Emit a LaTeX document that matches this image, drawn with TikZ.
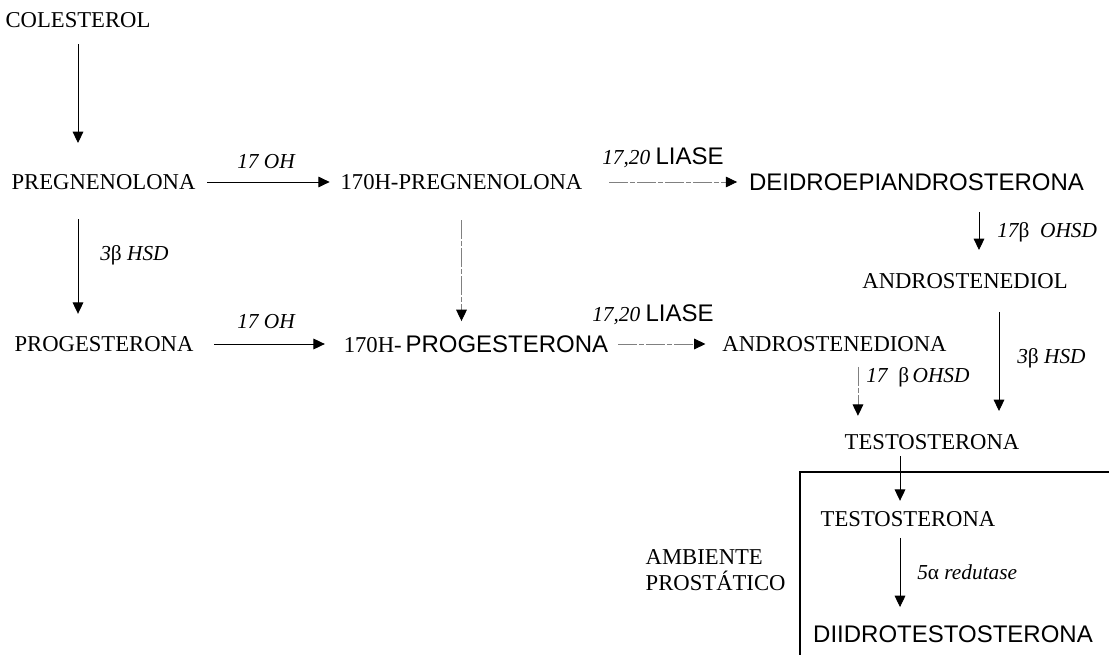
\documentclass[tikz,border=0pt]{standalone}
\usepackage{fontspec}
\setmainfont{Liberation Serif}
\newfontfamily\arialfont{Liberation Sans}
\usetikzlibrary{arrows.meta}
\newcommand{\sfword}[1]{{\upshape\fontsize{18}{21}\selectfont\arialfont #1}}

\begin{document}
\begin{tikzpicture}[x=0.75pt,y=-0.75pt,
		cmp/.style={font=\fontsize{17}{19}\selectfont},
		cmpsf/.style={font=\fontsize{18}{21}\selectfont\arialfont},
		enz/.style={font=\fontsize{16}{19}\selectfont\itshape,anchor=west,inner sep=0pt},
		arr/.style={-{Triangle[length=8.5pt,width=8pt]},line width=0.7pt},
		faint/.style={-{Triangle[length=8.5pt,width=8pt,color=black]},line width=0.7pt,gray,dash pattern=on 14pt off 1.5pt on 4pt off 1.5pt}]
		\useasboundingbox (0,0) rectangle (1109,655);
		% compounds
		\node[cmp] (colesterol) at (78,20) {COLESTEROL};
		\node[cmp] (pregnenolona) at (103.5,182) {PREGNENOLONA};
		\node[cmp] (ohpreg) at (461.5,182) {170H-PREGNENOLONA};
		\node[cmpsf] (dhea) at (916.5,182) {DEIDROEPIANDROSTERONA};
		\node[cmp] (diol) at (965,281) {ANDROSTENEDIOL};
		\node[cmp] (progesterona) at (104,344) {PROGESTERONA};
		\node[cmp] (ohprog) at (476,344) {170H-\,\sfword{PROGESTERONA}};
		\node[cmp] (androna) at (834.5,344) {ANDROSTENEDIONA};
		\node[cmp] (testo) at (932,442) {TESTOSTERONA};
		\node[cmp] (testoin) at (908,519) {TESTOSTERONA};
		\node[cmpsf] (dht) at (953,634) {DIIDROTESTOSTERONA};
		\node[cmp,align=left,anchor=west] (ambiente) at (641,570) {AMBIENTE\\PROSTÁTICO};
		% prostate box
		\draw[line width=1.5pt] (800,656) -- (800,472) -- (1110,472);
		% enzymes
		\node[enz] (oh1) at (237,162) {17 OH};
		\node[enz] (oh2) at (237,322) {17 OH};
		\node[enz] (liase1) at (602,158) {17,20 \sfword{LIASE}};
		\node[enz] (liase2) at (592,315) {17,20 \sfword{LIASE}};
		\node[enz] (hsd1) at (100,255) {3{\upshape β} HSD};
		\node[enz] (ohsd1) at (997,232) {17{\upshape β}\ \ OHSD};
		\node[enz] (hsd2) at (1017,358) {3{\upshape β} HSD};
		\node[enz] (ohsd2) at (866,377) {17\ \ {\upshape β}\,OHSD};
		\node[enz] (redutase) at (917,572) {5{\upshape α}\ redutase};
		% reactions
		\draw[arr,shorten <=8.9pt,shorten >=20pt] (colesterol.south) -- (colesterol.south |- pregnenolona.north);
		\draw[arr,shorten <=18.6pt,shorten >=13.4pt] (pregnenolona.south -| colesterol) -- (colesterol |- progesterona.north);
		\draw[arr,shorten <=5.5pt,shorten >=4.7pt] (pregnenolona) -- (ohpreg);
		\draw[arr,shorten <=12pt,shorten >=10.7pt] (progesterona) -- (ohprog);
		\draw[faint,shorten <=19.4pt,shorten >=7.3pt] (ohpreg.south) -- (ohpreg.south |- ohprog.north);
		\draw[faint,shorten <=16.7pt,shorten >=5.5pt] (ohpreg) -- (dhea);
		\draw[faint,shorten <=4pt,shorten >=9.2pt] (ohprog) -- (androna);
		\draw[arr,shorten <=12.5pt,shorten >=14pt] ([xshift=10.5pt]dhea.south -| diol) -- ([xshift=10.5pt]diol.north);
		\draw[arr,shorten <=14pt,shorten >=14pt] ([xshift=25.5pt]diol.south) -- ([xshift=25.5pt]diol.south |- testo.north);
		\draw[faint,shorten <=8pt,shorten >=10.4pt] ([xshift=17.6pt]androna.south) -- ([xshift=17.6pt]androna.south |- testo.north);
		\draw[arr,shorten <=1.5pt,shorten >=4.4pt] ([xshift=-6pt]testo.south -| testoin) -- ([xshift=-6pt]testoin.north);
		\draw[arr,shorten <=5pt,shorten >=10.3pt] ([xshift=-6pt]testoin.south) -- ([xshift=-6pt]testoin.south |- dht.north);
	\end{tikzpicture}
\end{document}
